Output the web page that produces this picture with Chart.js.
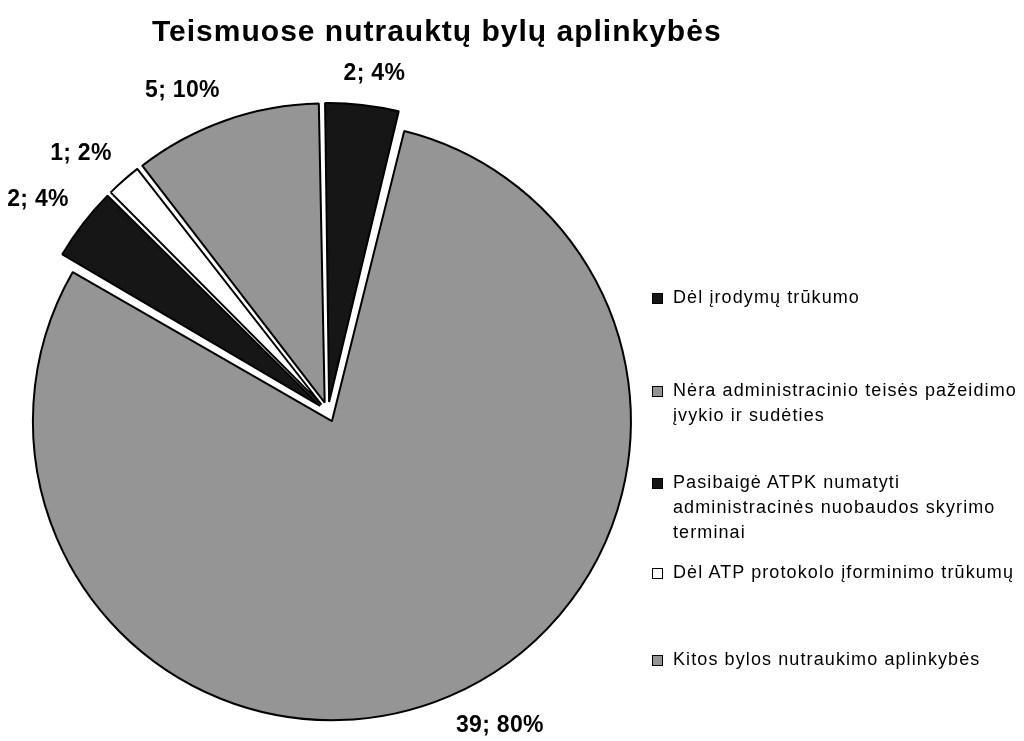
<!DOCTYPE html>
<html>
<head>
<meta charset="utf-8">
<script src="https://cdn.jsdelivr.net/npm/chart.js@4"></script>
<style>
  html, body { margin: 0; padding: 0; background: #fff; }
  #wrap { position: relative; width: 1024px; height: 741px; overflow: hidden; }
  #c { position: absolute; left: 0; top: 0; }
  #title { position: absolute; left: 152px; top: 16px; font: bold 30px "Liberation Sans", Arial, sans-serif;
           letter-spacing: 1px; line-height: 30px; white-space: nowrap; color: #000; }
  .item { position: absolute; left: 652px; font: 18px "Liberation Sans", Arial, sans-serif; letter-spacing: 1.1px;
          line-height: 25px; color: #000; white-space: pre-line; }
  .sw { position: absolute; left: 0; top: 8px; width: 9px; height: 9px; border: 1px solid #000; }
  .txt { margin-left: 21px; }
</style>
</head>
<body>
<div id="wrap">
  <canvas id="c" width="1024" height="741"></canvas>
  <div id="title">Teismuose nutrauktų bylų aplinkybės</div>
  <div id="legend"></div>
</div>
<script>
// ---- data ----
const categories = [
  "Dėl įrodymų trūkumo",
  "Nėra administracinio teisės pažeidimo\nįvykio ir sudėties",
  "Pasibaigė ATPK numatyti\nadministracinės nuobaudos skyrimo\nterminai",
  "Dėl ATP protokolo įforminimo trūkumų",
  "Kitos bylos nutraukimo aplinkybės"
];
const values = [2, 39, 2, 1, 5];
const sliceColors = ["#161616", "#959595", "#161616", "#ffffff", "#959595"];

// ---- layout (not data) ----
const PIE_RADIUS = 299;
const EXPLODE = 40;              // Chart.js offset (translation = offset/4)
const legendTops = [285, 378, 470, 560, 647];
const LABEL_GAP = 18;
const LABEL_H = 26;

const total = values.reduce((a, b) => a + b, 0);
const labelTexts = values.map(v => v + "; " + Math.round(v / total * 100) + "%");

// HTML legend
const legendEl = document.getElementById("legend");
categories.forEach((cat, i) => {
  const item = document.createElement("div");
  item.className = "item";
  item.style.top = legendTops[i] + "px";
  const sw = document.createElement("div");
  sw.className = "sw";
  sw.style.background = sliceColors[i];
  const txt = document.createElement("div");
  txt.className = "txt";
  txt.textContent = cat;
  item.appendChild(sw);
  item.appendChild(txt);
  legendEl.appendChild(item);
});

const sliceLabels = {
  id: "sliceLabels",
  beforeDatasetsDraw(chart) {
    const meta = chart.getDatasetMeta(0);
    meta.data.forEach(el => {
      const t = (el.options.offset || 0) / 4;
      const fix = 1 - Math.sin(Math.min(Math.PI, el.circumference));
      el.outerRadius = PIE_RADIUS - t * fix;
    });
  },
  afterDatasetsDraw(chart) {
    const ctx = chart.ctx;
    const meta = chart.getDatasetMeta(0);
    ctx.save();
    ctx.font = "bold 23px 'Liberation Sans', Arial, sans-serif";
    if ("letterSpacing" in ctx) ctx.letterSpacing = "0.3px";
    ctx.fillStyle = "#000";
    ctx.textAlign = "center";
    ctx.textBaseline = "middle";
    const f = v => Math.max(-1, Math.min(1, 3 * v));
    meta.data.forEach((el, i) => {
      const mid = (el.startAngle + el.endAngle) / 2;
      const dx = Math.cos(mid), dy = Math.sin(mid);
      const t = (el.options.offset || 0) / 4;
      const ax = el.x + dx * (t + PIE_RADIUS + LABEL_GAP);
      const ay = el.y + dy * (t + PIE_RADIUS + LABEL_GAP);
      const w = ctx.measureText(labelTexts[i]).width;
      const cx = ax + f(dx) * w / 2;
      const cy = ay + f(dy) * LABEL_H / 2;
      ctx.fillText(labelTexts[i], cx, cy);
    });
    ctx.restore();
  }
};

new Chart(document.getElementById("c"), {
  type: "pie",
  data: {
    labels: categories,
    datasets: [{
      data: values,
      backgroundColor: sliceColors,
      borderColor: "#000",
      borderWidth: 2,
      offset: EXPLODE,
      hoverOffset: 0,
      radius: PIE_RADIUS
    }]
  },
  options: {
    responsive: false,
    animation: false,
    events: [],
    rotation: -1,
    layout: { padding: { top: 83, bottom: 0, left: 0, right: 368 } },
    plugins: {
      legend: { display: false },
      title: { display: false },
      tooltip: { enabled: false }
    }
  },
  plugins: [sliceLabels]
});
</script>
</body>
</html>
